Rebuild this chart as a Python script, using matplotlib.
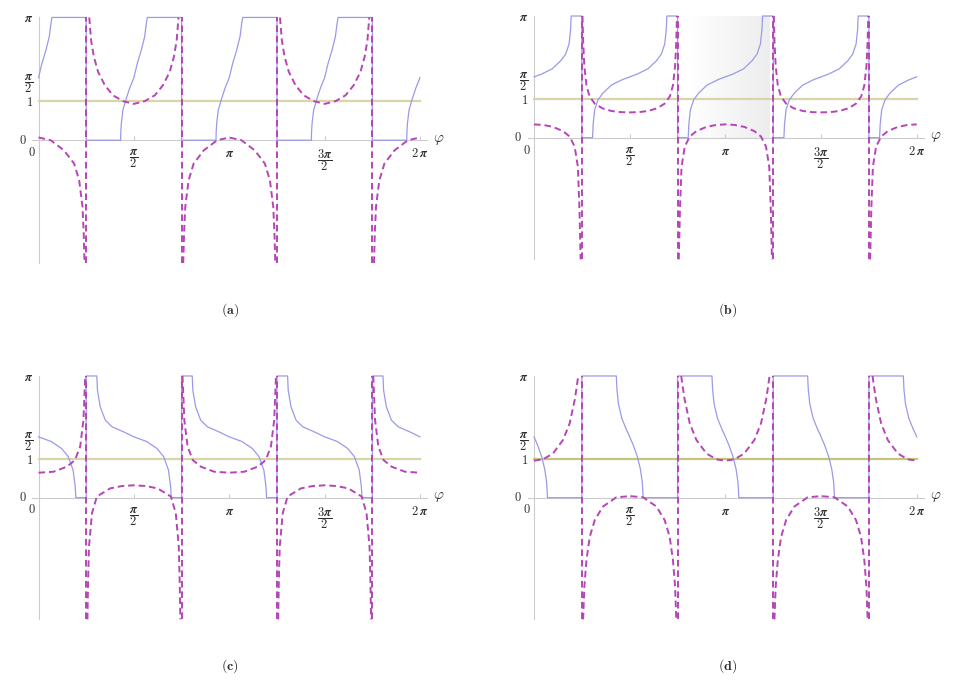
import numpy as np
import matplotlib
matplotlib.use('Agg')
import matplotlib.pyplot as plt
from matplotlib.colors import LinearSegmentedColormap

plt.rcParams['mathtext.fontset'] = 'cm'

PI = np.pi

# shared geometry
CENTERS = [0.0, PI / 2, PI, 3 * PI / 2, 2 * PI]
ASYMPTOTES = [PI / 4, 3 * PI / 4, 5 * PI / 4, 7 * PI / 4]
LEVEL_X = [0.0, 2 * PI]
LEVEL_Y = [1.0, 1.0]

# (a) blue rise (offset from centre, value), magenta U and cap
A_BLUE_DX = [-0.218, -0.216, -0.207, -0.181, -0.125, -0.070, 0.0, 0.057, 0.123, 0.177, 0.205, 0.222]
A_BLUE_Y = [0.0, 0.20, 0.43, 0.77, 1.07, 1.33, 1.60, 1.97, 2.31, 2.65, 2.99, 3.142]
A_U_DX = [-0.735, -0.705, -0.66, -0.59, -0.48, -0.345, -0.18, 0.0, 0.18, 0.345, 0.48, 0.59, 0.66, 0.705, 0.735]
A_U_Y = [3.142, 2.56, 2.14, 1.75, 1.41, 1.15, 1.00, 0.93, 1.00, 1.15, 1.41, 1.75, 2.14, 2.56, 3.142]
A_CAP_DX = [-0.758, -0.745, -0.725, -0.670, -0.587, -0.42, -0.20, 0.0, 0.20, 0.42, 0.587, 0.670, 0.725, 0.745, 0.758]
A_CAP_Y = [-3.142, -2.4, -1.71, -1.03, -0.60, -0.26, 0.0, 0.07, 0.0, -0.26, -0.60, -1.03, -1.71, -2.4, -3.142]
A_U_AT = [PI / 2, 3 * PI / 2]
A_CAP_AT = [0.0, PI, 2 * PI]

# (b)
B_BLUE_DX = [-0.61, -0.60, -0.575, -0.52, -0.44, -0.30, -0.12, 0.0, 0.12, 0.30, 0.44, 0.52, 0.575, 0.60, 0.61]
B_BLUE_Y = [0.0, 0.35, 0.72, 0.98, 1.15, 1.36, 1.50, 1.571, 1.64, 1.78, 1.99, 2.16, 2.42, 2.79, 3.142]
B_U_DX = [-0.775, -0.765, -0.745, -0.71, -0.66, -0.574, -0.45, -0.30, -0.15, 0.0, 0.15, 0.30, 0.45, 0.574, 0.66, 0.71, 0.745, 0.765, 0.775]
B_U_Y = [3.142, 2.5, 1.85, 1.35, 1.07, 0.88, 0.76, 0.69, 0.66, 0.654, 0.66, 0.69, 0.76, 0.88, 1.07, 1.35, 1.85, 2.5, 3.142]
B_CAP_DX = [-0.765, -0.745, -0.72, -0.667, -0.585, -0.476, -0.31, -0.15, 0.0, 0.15, 0.31, 0.476, 0.585, 0.667, 0.72, 0.745, 0.765]
B_CAP_Y = [-3.142, -1.8, -0.75, -0.23, 0.03, 0.17, 0.28, 0.33, 0.344, 0.33, 0.28, 0.17, 0.03, -0.23, -0.75, -1.8, -3.142]
B_U_AT = [PI / 2, 3 * PI / 2]
B_CAP_AT = [0.0, PI, 2 * PI]
B_SHADE = [2.53, 3.875]

# (c)
C_BLUE_DX = [-0.61, -0.60, -0.555, -0.47, -0.36, -0.17, 0.0, 0.21, 0.38, 0.49, 0.57, 0.605, 0.615]
C_BLUE_Y = [3.142, 2.78, 2.35, 2.0, 1.83, 1.70, 1.571, 1.45, 1.27, 1.06, 0.71, 0.28, 0.0]
C_U_DX = [-0.77, -0.74, -0.686, -0.60, -0.467, -0.247, 0.0, 0.247, 0.467, 0.60, 0.686, 0.74, 0.77]
C_U_Y = [3.142, 2.0, 1.32, 0.97, 0.80, 0.67, 0.645, 0.67, 0.80, 0.97, 1.32, 2.0, 3.142]
C_CAP_DX = [-0.765, -0.755, -0.74, -0.69, -0.61, -0.39, -0.2, 0.0, 0.2, 0.39, 0.61, 0.69, 0.74, 0.755, 0.765]
C_CAP_Y = [-3.142, -2.2, -1.27, -0.40, 0.03, 0.24, 0.30, 0.32, 0.30, 0.24, 0.03, -0.40, -1.27, -2.2, -3.142]
C_U_AT = [0.0, PI, 2 * PI]
C_CAP_AT = [PI / 2, 3 * PI / 2]

# (d)
D_BLUE_DX = [-0.22, -0.21, -0.185, -0.13, -0.06, 0.0, 0.06, 0.125, 0.175, 0.205, 0.215, 0.22]
D_BLUE_Y = [3.142, 2.80, 2.42, 2.05, 1.78, 1.571, 1.35, 1.06, 0.74, 0.42, 0.2, 0.0]
D_U_DX = [-0.725, -0.70, -0.667, -0.585, -0.476, -0.31, -0.148, 0.0, 0.148, 0.31, 0.476, 0.585, 0.667, 0.70, 0.725]
D_U_Y = [3.142, 2.85, 2.52, 1.92, 1.49, 1.14, 0.99, 0.955, 0.99, 1.14, 1.49, 1.92, 2.52, 2.85, 3.142]
D_CAP_DX = [-0.765, -0.745, -0.71, -0.656, -0.574, -0.44, -0.22, 0.0, 0.22, 0.44, 0.574, 0.656, 0.71, 0.745, 0.765]
D_CAP_Y = [-3.142, -2.3, -1.61, -1.01, -0.58, -0.23, 0.01, 0.04, 0.01, -0.23, -0.58, -1.01, -1.61, -2.3, -3.142]
D_U_AT = [0.0, PI, 2 * PI]
D_CAP_AT = [PI / 2, 3 * PI / 2]

X_TICKS = [PI / 2, PI, 3 * PI / 2, 2 * PI]
X_LABELS = [r'$\dfrac{\boldsymbol{\pi}}{\mathbf{2}}$', r'$\boldsymbol{\pi}$',
            r'$\dfrac{\mathbf{3}\boldsymbol{\pi}}{\mathbf{2}}$', r'$\mathbf{2}\,\boldsymbol{\pi}$']
Y_TICKS = [1.0, PI / 2, PI]
Y_LABELS = [r'$\mathbf{1}$', r'$\dfrac{\boldsymbol{\pi}}{\mathbf{2}}$', r'$\boldsymbol{\pi}$']

BLUE = '#9a9aea'
MAGENTA = '#b446b6'
AXIS = '#cccccc'
TEXT = '#2e2e2e'

fig = plt.figure(figsize=(9.54, 6.85), dpi=100)


def in_range(x):
    return -1e-9 <= x <= 2 * PI + 1e-9


def draw_panel(rect, blue_dx, blue_y, u_dx, u_y, u_at, cap_dx, cap_y, cap_at,
               level_color, label, label_pos, shade=None):
    ax = fig.add_axes(rect)

    if shade is not None:
        cmap = LinearSegmentedColormap.from_list('sh', ['#ffffff', '#ededed'])
        ax.imshow(np.linspace(0, 1, 256)[None, :], extent=[shade[0], shade[1], 0, PI],
                  cmap=cmap, aspect='auto', zorder=0, interpolation='bilinear')

    ax.plot(LEVEL_X, LEVEL_Y, color=level_color, lw=1.6, zorder=1, clip_on=False)

    # blue: clipped curve, jumps at the asymptotes
    xs, ys = [], []
    for i, c in enumerate(CENTERS):
        for dx, y in zip(blue_dx, blue_y):
            if in_range(c + dx):
                xs.append(c + dx)
                ys.append(y)
        if i < len(ASYMPTOTES):
            xs += [ASYMPTOTES[i], ASYMPTOTES[i]]
            ys += [blue_y[-1], blue_y[0]]
    ax.plot(xs, ys, color=BLUE, lw=0.9, zorder=3, clip_on=False)

    dash = dict(color=MAGENTA, lw=1.4, dashes=(3.4, 2.0), zorder=4, clip_on=False)
    for at, sdx, sy in [(c, u_dx, u_y) for c in u_at] + [(c, cap_dx, cap_y) for c in cap_at]:
        px = [at + d for d in sdx if in_range(at + d)]
        py = [y for d, y in zip(sdx, sy) if in_range(at + d)]
        ax.plot(px, py, **dash)
    for a in ASYMPTOTES:
        ax.plot([a, a], [-PI, PI], **dash)

    ax.set_xlim(-0.1, 2 * PI + 0.12)
    ax.set_ylim(-PI, PI)
    for s in ['top', 'right']:
        ax.spines[s].set_visible(False)
    ax.spines['left'].set_position(('data', 0))
    ax.spines['bottom'].set_position(('data', 0))
    for s in ['left', 'bottom']:
        ax.spines[s].set_color(AXIS)
        ax.spines[s].set_linewidth(0.8)
        ax.spines[s].set_zorder(0.5)
    ax.set_xticks(X_TICKS)
    ax.set_xticklabels(X_LABELS)
    ax.set_yticks(Y_TICKS)
    ax.set_yticklabels(Y_LABELS)
    ax.tick_params(axis='x', direction='in', length=3, color=AXIS, pad=5,
                   labelsize=9, labelcolor=TEXT)
    ax.tick_params(axis='y', length=0, pad=4, labelsize=9, labelcolor=TEXT)
    ax.text(-0.2, 0, r'$\mathbf{0}$', ha='right', va='center', fontsize=9, color=TEXT)
    ax.text(-0.11, -0.15, r'$\mathbf{0}$', ha='center', va='top', fontsize=9, color=TEXT)
    ax.text(2 * PI + 0.22, 0.02, r'$\varphi$', ha='left', va='center', fontsize=11, color=TEXT)
    ax.patch.set_visible(False)
    fig.text(label_pos[0], label_pos[1], label, ha='center', va='center', fontsize=10, color=TEXT)


draw_panel([0.0340, 0.6161, 0.4139, 0.3584], A_BLUE_DX, A_BLUE_Y, A_U_DX, A_U_Y, A_U_AT,
           A_CAP_DX, A_CAP_Y, A_CAP_AT, '#d9d5a6', r'$\mathbf{(a)}$', (230 / 954, 1 - 310 / 685))
draw_panel([0.5534, 0.6213, 0.4152, 0.3553], B_BLUE_DX, B_BLUE_Y, B_U_DX, B_U_Y, B_U_AT,
           B_CAP_DX, B_CAP_Y, B_CAP_AT, '#d9d5a6', r'$\mathbf{(b)}$', (728 / 954, 1 - 310 / 685),
           shade=B_SHADE)
draw_panel([0.0340, 0.0958, 0.4139, 0.3553], C_BLUE_DX, C_BLUE_Y, C_U_DX, C_U_Y, C_U_AT,
           C_CAP_DX, C_CAP_Y, C_CAP_AT, '#d9d5a6', r'$\mathbf{(c)}$', (230 / 954, 1 - 666 / 685))
draw_panel([0.5534, 0.0958, 0.4152, 0.3553], D_BLUE_DX, D_BLUE_Y, D_U_DX, D_U_Y, D_U_AT,
           D_CAP_DX, D_CAP_Y, D_CAP_AT, '#c6c37a', r'$\mathbf{(d)}$', (728 / 954, 1 - 666 / 685))

fig.savefig('out.png', dpi=100)
